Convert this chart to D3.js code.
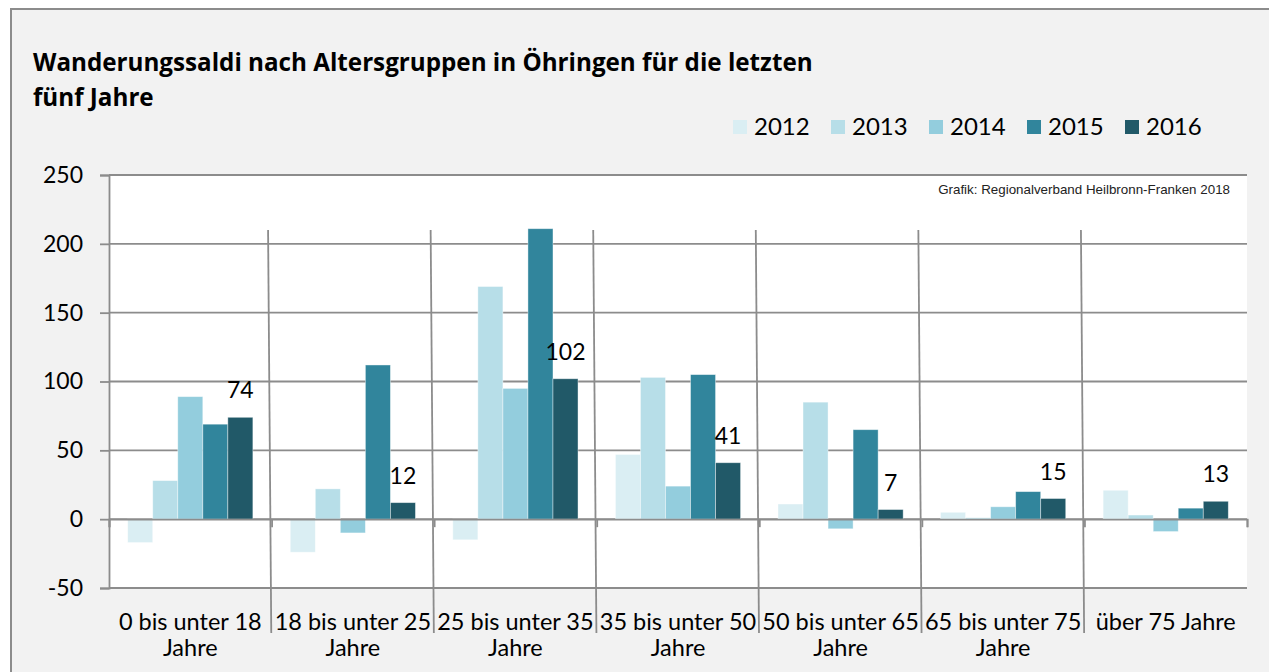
<!DOCTYPE html>
<html>
<head>
<meta charset="utf-8">
<script src="https://cdn.jsdelivr.net/npm/d3@7"></script>
<style>
  body { margin: 0; background: #fff; }
  text { font-family: Lato, "Open Sans", sans-serif; fill: #000; }
</style>
</head>
<body>
<script>
// data
var years = ['2012', '2013', '2014', '2015', '2016'];
var groups = ['0 bis unter 18 Jahre', '18 bis unter 25 Jahre', '25 bis unter 35 Jahre',
  '35 bis unter 50 Jahre', '50 bis unter 65 Jahre', '65 bis unter 75 Jahre', 'über 75 Jahre'];
var v2012 = [-17, -24, -15, 47, 11, 5, 21];
var v2013 = [28, 22, 169, 103, 85, 1, 3];
var v2014 = [89, -10, 95, 24, -7, 9, -9];
var v2015 = [69, 112, 211, 105, 65, 20, 8];
var v2016 = [74, 12, 102, 41, 7, 15, 13];
var yTicks = [-50, 0, 50, 100, 150, 200, 250];
var colors = ['#daeef3', '#b7dee8', '#93cddd', '#31859c', '#215968'];

var series = [v2012, v2013, v2014, v2015, v2016];
var width = 1269, height = 672;
var pLeft = 109, pRight = 1247, pTop = 175, pBottom = 588;
var gridCol = '#8c8c8c';

var svg = d3.select('body').append('svg')
  .attr('width', width)
  .attr('height', height);

// frame
svg.append('rect')
  .attr('x', 11).attr('y', 9)
  .attr('width', width).attr('height', height)
  .attr('fill', '#f2f2f2');
svg.append('path')
  .attr('d', 'M11,' + (height + 5) + 'V9H' + (width + 5))
  .attr('fill', 'none').attr('stroke', gridCol).attr('stroke-width', 2);

// shrink/grow a text to a given width
function fitWidth(sel, w) {
  var fs = parseFloat(sel.style('font-size'));
  var len = sel.node().getComputedTextLength();
  sel.style('font-size', (fs * w / len) + 'px');
}

// title
var t1 = svg.append('text').attr('x', 33).attr('y', 71)
  .style('font-family', '"Open Sans", sans-serif')
  .style('font-weight', 'bold').style('font-size', '22px')
  .text('Wanderungssaldi nach Altersgruppen in Öhringen für die letzten');
fitWidth(t1, 780);
svg.append('text').attr('x', 33).attr('y', 106)
  .style('font-family', '"Open Sans", sans-serif')
  .style('font-weight', 'bold').style('font-size', t1.style('font-size'))
  .text('fünf Jahre');

// legend
var leg = svg.selectAll('.leg').data(years).enter().append('g')
  .attr('transform', (d, i) => 'translate(' + (733 + i * 98) + ',120)');
leg.append('rect').attr('width', 14).attr('height', 14).attr('fill', (d, i) => colors[i]);
leg.append('text').attr('x', 21).attr('y', 15)
  .style('font-size', '24px').text(d => d);

// plot area
svg.append('rect')
  .attr('x', pLeft).attr('y', pTop)
  .attr('width', pRight - pLeft).attr('height', pBottom - pTop)
  .attr('fill', '#fff');

var x = d3.scaleBand().domain(groups).range([pLeft, pRight]);
var xInner = d3.scaleBand().domain(years)
  .range([x.bandwidth() * 0.115, x.bandwidth() * 0.885]);
var y = d3.scaleLinear().domain([-50, 250]).range([pBottom, pTop]);

var credit = svg.append('text')
  .attr('x', 1230).attr('y', 194)
  .attr('text-anchor', 'end')
  .style('font-family', '"Liberation Sans", Arial, sans-serif')
  .style('font-size', '12px')
  .style('fill', '#222')
  .text('Grafik: Regionalverband Heilbronn-Franken 2018');
fitWidth(credit, 292);

// grid
svg.append('g').selectAll('line').data(yTicks).enter().append('line')
  .attr('x1', pLeft).attr('x2', pRight)
  .attr('y1', d => y(d)).attr('y2', d => y(d))
  .attr('stroke', gridCol).attr('stroke-width', 1.8);

// y axis
var yAxis = d3.axisLeft(y).tickValues(yTicks).tickSize(9).tickPadding(17)
  .tickFormat(d => String(d));
var gy = svg.append('g').attr('transform', 'translate(' + pLeft + ',0)').call(yAxis);
gy.select('.domain').attr('stroke', gridCol).attr('stroke-width', 1.8);
gy.selectAll('.tick line').attr('stroke', gridCol).attr('stroke-width', 1.8);
gy.selectAll('.tick text').style('font-size', '23px').style('font-family', 'Lato, sans-serif');

// separators between groups (slightly slanted, like the original)
var bounds = groups.slice(1).map(g => x(g));
svg.append('g').selectAll('line').data(bounds).enter().append('line')
  .attr('x1', d => d - 3.5).attr('y1', y(210))
  .attr('x2', d => d - 0.3).attr('y2', pBottom + 45)
  .attr('stroke', gridCol).attr('stroke-width', 1.8);

// bars
var gBars = svg.append('g');
series.forEach(function(vals, si) {
  gBars.selectAll('.b' + si).data(vals).enter().append('rect')
    .attr('x', (d, i) => x(groups[i]) + xInner(years[si]))
    .attr('width', xInner.bandwidth())
    .attr('y', d => y(Math.max(0, d)))
    .attr('height', d => Math.abs(y(d) - y(0)))
    .attr('fill', colors[si])
    .attr('stroke', '#fff').attr('stroke-opacity', 0.5).attr('stroke-width', 0.8);
});

// zero axis with ticks at group boundaries
var xb = d3.scaleLinear().domain([0, groups.length]).range([pLeft, pRight]);
var gx = svg.append('g').attr('transform', 'translate(0,' + y(0) + ')')
  .call(d3.axisBottom(xb).ticks(groups.length).tickSize(8).tickFormat(''));
gx.select('.domain').attr('stroke', gridCol).attr('stroke-width', 1.8);
gx.selectAll('.tick line').attr('stroke', gridCol).attr('stroke-width', 1.8);

// data labels for 2016
svg.append('g').selectAll('text').data(v2016).enter().append('text')
  .attr('x', (d, i) => x(groups[i]) + xInner('2016') + xInner.bandwidth() / 2)
  .attr('y', d => y(d) - 19)
  .attr('text-anchor', 'middle')
  .style('font-size', '23px')
  .text(d => d);

// category labels
var gl = svg.append('g');
groups.forEach(function(g) {
  var parts = g === 'über 75 Jahre' ? [g] : [g.replace(' Jahre', ''), 'Jahre'];
  parts.forEach(function(p, k) {
    gl.append('text')
      .attr('x', x(g) + x.bandwidth() / 2)
      .attr('y', 630 + k * 26)
      .attr('text-anchor', 'middle')
      .style('font-size', '23.5px')
      .text(p);
  });
});
</script>
</body>
</html>
